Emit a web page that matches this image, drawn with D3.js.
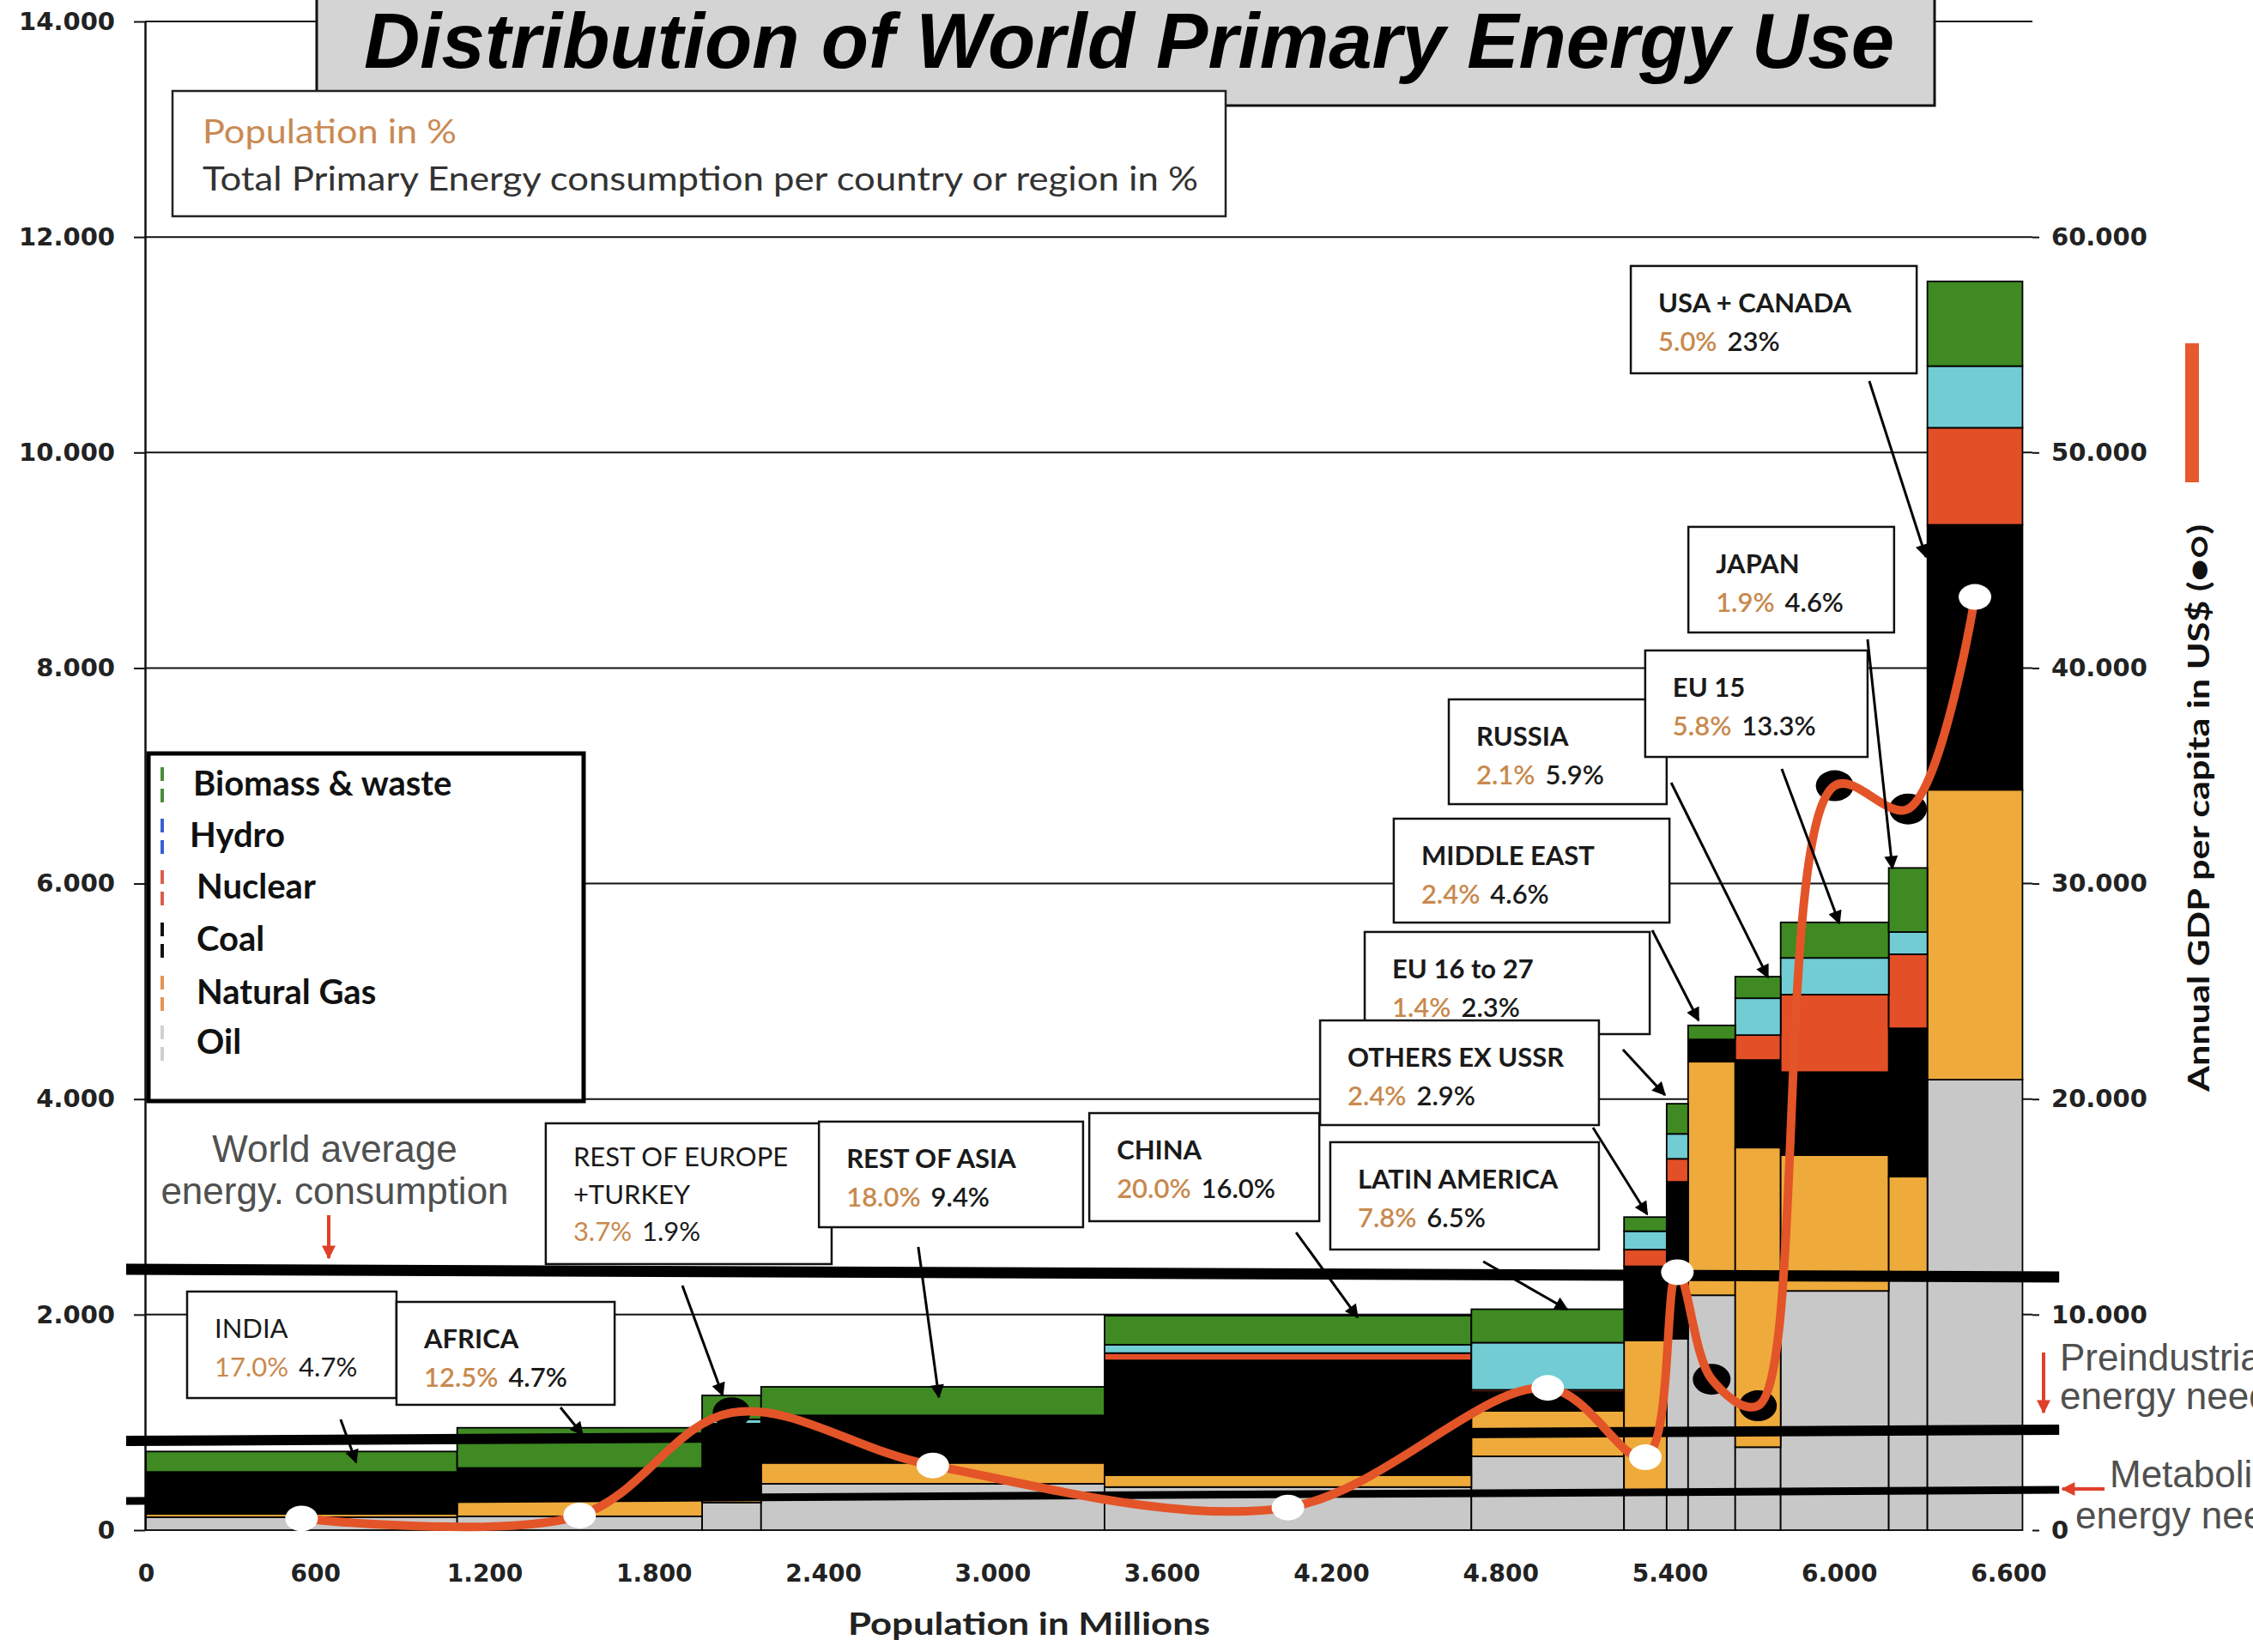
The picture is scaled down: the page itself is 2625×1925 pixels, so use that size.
<!DOCTYPE html>
<html><head><meta charset="utf-8">
<script src="https://cdn.jsdelivr.net/npm/d3@7"></script>
<style>html,body{margin:0;padding:0;background:#fff;} svg{display:block}</style>
</head><body>
<svg id="chart" width="2625" height="1925"></svg>
<script>
// ---------------- DATA ----------------
const regions = ["INDIA","AFRICA","REST OF EUROPE +TURKEY","REST OF ASIA","CHINA","LATIN AMERICA","OTHERS EX USSR","EU 16 to 27","MIDDLE EAST","RUSSIA","EU 15","JAPAN","USA + CANADA"];
const population = [1103, 868, 209, 1217, 1300, 541, 151, 76, 167, 161, 383, 137, 337]; // millions
const popShare = ["17.0%","12.5%","3.7%","18.0%","20.0%","7.8%","2.4%","1.4%","2.4%","2.1%","5.8%","1.9%","5.0%"];
const energyShare = ["4.7%","4.7%","1.9%","9.4%","16.0%","6.5%","2.9%","2.3%","4.6%","5.9%","13.3%","4.6%","23%"];
const fuels = ["Oil","Natural Gas","Coal","Nuclear","Hydro","Biomass & waste"];
const oil     = [120, 128, 256, 430, 400, 685, 362, 1775, 2180, 770, 2220, 2350, 4180];
const gas     = [30, 154, 52, 194, 110, 422, 1398, 0, 2167, 2780, 1260, 930, 2690];
const coal    = [390, 295, 680, 441, 1065, 175, 688, 1457, 207, 813, 770, 1377, 2459];
const nuclear = [0, 0, 0, 0, 68, 20, 155, 214, 0, 231, 720, 687, 901];
const hydro   = [0, 0, 40, 0, 77, 438, 171, 231, 0, 342, 340, 206, 572];
const biomass = [190, 373, 222, 265, 270, 310, 131, 280, 130, 200, 330, 595, 786];
const gdpPerCapita = [540, 680, 5450, 3000, 1050, 6600, 3380, 11970, 7000, 5770, 34540, 33460, 43300];
const gdpMarker = ["white","white","black","white","white","white","white","white","black","black","black","black","white"];
const refLineNames = ["World average", "Preindustrial", "Metabolic"];
const refLineLeft  = [2420, 828, 270];
const refLineRight = [2350, 932, 374];
const yTicks = [0,2000,4000,6000,8000,10000,12000,14000];
const xTicks = [0,600,1200,1800,2400,3000,3600,4200,4800,5400,6000,6600];
const gdpTicks = [0,10000,20000,30000,40000,50000,60000];
const legendOrder = ["Biomass & waste","Hydro","Nuclear","Coal","Natural Gas","Oil"];

// ---------------- LAYOUT (annotation placement, in data units) ----------------
const boxPop0 = [146, 888, 1417, 2385, 3343, 4197, 4161, 4319, 4422, 4617, 5313, 5466, 5262];
const boxPop1 = [888, 1661, 2430, 3321, 4158, 5149, 5149, 5329, 5399, 5389, 6101, 6195, 6275];
const boxTop  = [2214, 2118, 3775, 3791, 3870, 3600, 4730, 5551, 6602, 7709, 8163, 9310, 11731];
const boxBot  = [1226, 1163, 2469, 2811, 2867, 2604, 3759, 4603, 5638, 6737, 7175, 8330, 10735];
const arrowFrom = [[690,1027],[1469,1139],[1901,2270],[2737,2628],[4076,2763],[4739,2493],[5128,3735],[5234,4460],[5338,5567],[5405,6936],[5797,7064],[6101,8266],[6107,10663]];
const arrowTo   = [[745,629],[1548,884],[2044,1250],[2810,1234],[4294,1975],[5037,2047],[5320,2931],[5383,4038],[5502,4730],[5748,5129],[6001,5630],[6189,6140],[6308,9031]];
const boxDrawOrder = [0,1,2,3,4,5,7,6,8,9,10,11,12];

const colors = {"Oil":"#c8c8c8","Natural Gas":"#eeaa3b","Coal":"#000000","Nuclear":"#e34f27","Hydro":"#72ccd3","Biomass & waste":"#3f8a22"};
const legendDash = {"Biomass & waste":"#4a8c3c","Hydro":"#3a5fd0","Nuclear":"#d8604c","Coal":"#111","Natural Gas":"#e39455","Oil":"#d0d0d0"};

// ---------------- SCALES ----------------
const svg = d3.select("#chart");
const x = d3.scaleLinear().domain([0,6600]).range([170,2340]);
const y = d3.scaleLinear().domain([0,14000]).range([1783,25]);
const yR = d3.scaleLinear().domain([0,60000]).range([y(0), y(12000)]);
const fmt = d3.formatLocale({decimal:",", thousands:".", grouping:[3], currency:["",""]}).format(",d");
const axisX = 169, gridEnd = 2368;

svg.append("rect").attr("width",2625).attr("height",1925).attr("fill","#fff");

// gridlines
svg.append("g").selectAll("line").data(yTicks.filter(v=>v>0)).join("line")
  .attr("x1",axisX).attr("x2",gridEnd).attr("y1",d=>y(d)).attr("y2",d=>y(d))
  .attr("stroke","#111").attr("stroke-width",2);

// left axis
const gL = svg.append("g").attr("transform",`translate(${axisX},0)`)
  .call(d3.axisLeft(y).tickValues(yTicks).tickFormat(fmt).tickSizeInner(13).tickSizeOuter(0).tickPadding(22));
gL.select(".domain").attr("stroke","#111").attr("stroke-width",2.5);
gL.selectAll(".tick line").attr("stroke","#111").attr("stroke-width",2);
gL.selectAll("text").attr("font-family","DejaVu Sans").attr("font-weight","bold").attr("font-size",29).attr("fill","#222");

// right axis
const gR = svg.append("g").attr("transform",`translate(${gridEnd},0)`)
  .call(d3.axisRight(yR).tickValues(gdpTicks).tickFormat(fmt).tickSizeInner(8).tickSizeOuter(0).tickPadding(14));
gR.select(".domain").remove();
gR.selectAll(".tick line").attr("stroke","#111").attr("stroke-width",2);
gR.selectAll("text").attr("font-family","DejaVu Sans").attr("font-weight","bold").attr("font-size",29).attr("fill","#222");

// bottom axis
const gB = svg.append("g").attr("transform",`translate(0,${y(0)})`)
  .call(d3.axisBottom(x).tickValues(xTicks).tickFormat(fmt).tickSize(0));
gB.select(".domain").remove();
gB.selectAll("text").attr("y",50).attr("dy","0.35em").attr("font-family","DejaVu Sans").attr("font-weight","bold").attr("font-size",28).attr("fill","#222");

svg.append("text").attr("x",988).attr("y",1905).attr("textLength",422).attr("lengthAdjust","spacingAndGlyphs")
  .attr("font-family","Lato").attr("font-weight","bold").attr("font-size",37).attr("fill","#222").text("Population in Millions");

// ---------------- BARS ----------------
const rows = regions.map((r,i)=>({region:r,"Oil":oil[i],"Natural Gas":gas[i],"Coal":coal[i],"Nuclear":nuclear[i],"Hydro":hydro[i],"Biomass & waste":biomass[i]}));
const series = d3.stack().keys(fuels)(rows);
const popEnd = d3.cumsum(population);
const popStart = population.map((p,i)=>popEnd[i]-p);
const gBars = svg.append("g");
series.forEach(s=>{
  const segs = s.map((d,i)=>({lo:d[0],hi:d[1],i})).filter(d=>d.hi-d.lo>0);
  gBars.selectAll(null).data(segs).join("rect")
    .attr("x",d=>x(popStart[d.i])).attr("width",d=>x(popEnd[d.i])-x(popStart[d.i]))
    .attr("y",d=>y(d.hi)).attr("height",d=>y(d.lo)-y(d.hi))
    .attr("fill",colors[s.key]).attr("stroke","#000").attr("stroke-width",1.8);
});

// ---------------- REFERENCE LINES ----------------
const refThick = [13,12,9];
const refExtent = [-70, 6780];
svg.append("g").selectAll("line").data(refLineNames).join("line")
  .attr("x1",x(refExtent[0])).attr("x2",x(refExtent[1]))
  .attr("y1",(d,i)=>y(refLineLeft[i])).attr("y2",(d,i)=>y(refLineRight[i]))
  .attr("stroke","#000").attr("stroke-width",(d,i)=>refThick[i]);

// ---------------- GDP CURVE ----------------
const gdpPts = gdpPerCapita.map((g,i)=>({x:x((popStart[i]+popEnd[i])/2), y:yR(g), m:gdpMarker[i]}));
const gG = svg.append("g");
gG.selectAll("ellipse.b").data(gdpPts.filter(p=>p.m==="black")).join("ellipse")
  .attr("cx",d=>d.x).attr("cy",d=>d.y).attr("rx",22).attr("ry",18).attr("fill","#000");
gG.append("path").datum(gdpPts)
  .attr("d",d3.line().x(d=>d.x).y(d=>d.y).curve(d3.curveCatmullRom.alpha(0.5)))
  .attr("fill","none").attr("stroke","#e35428").attr("stroke-width",10).attr("stroke-linecap","round");
gG.selectAll("ellipse.w").data(gdpPts.filter(p=>p.m==="white")).join("ellipse")
  .attr("cx",d=>d.x).attr("cy",d=>d.y).attr("rx",19).attr("ry",15).attr("fill","#fff");

// ---------------- MARKERS ----------------
const defs = svg.append("defs");
defs.append("marker").attr("id","ah").attr("viewBox","0 0 10 10").attr("refX",9).attr("refY",5)
  .attr("markerWidth",20).attr("markerHeight",16).attr("markerUnits","userSpaceOnUse").attr("orient","auto")
  .append("path").attr("d","M0,0 L10,5 L0,10 Z").attr("fill","#000");
defs.append("marker").attr("id","ahr").attr("viewBox","0 0 10 10").attr("refX",9).attr("refY",5)
  .attr("markerWidth",18).attr("markerHeight",16).attr("markerUnits","userSpaceOnUse").attr("orient","auto")
  .append("path").attr("d","M0,0 L10,5 L0,10 Z").attr("fill","#e0402a");

// ---------------- LABEL BOXES ----------------
const gLab = svg.append("g");
boxDrawOrder.forEach(i=>{
  const bx0 = x(boxPop0[i]), bx1 = x(boxPop1[i]), by0 = y(boxTop[i]), by1 = y(boxBot[i]);
  const light = (i===0 || i===2);
  gLab.append("line").attr("x1",x(arrowFrom[i][0])).attr("y1",y(arrowFrom[i][1]))
    .attr("x2",x(arrowTo[i][0])).attr("y2",y(arrowTo[i][1]))
    .attr("stroke","#000").attr("stroke-width",3).attr("marker-end","url(#ah)");
  gLab.append("rect").attr("x",bx0).attr("y",by0).attr("width",bx1-bx0).attr("height",by1-by0)
    .attr("fill","#fff").attr("stroke","#111").attr("stroke-width",2.5);
  const lines = i===2 ? ["REST OF EUROPE","+TURKEY"] : [regions[i]];
  const tx = bx0 + 32;
  let base = i===2 ? 50 : 54;
  lines.forEach((ln,k)=>{
    gLab.append("text").attr("x",tx).attr("y",by0+base+k*44).text(ln)
      .attr("font-family","Lato").attr("font-weight",light?400:700).attr("font-size",31).attr("fill","#1a1a1a");
  });
  const py = by0 + (i===2 ? 137 : 99);
  const t1 = gLab.append("text").attr("x",tx).attr("y",py).text(popShare[i])
    .attr("font-family","Lato").attr("font-weight",light?400:600).attr("font-size",31).attr("fill","#c8894e");
  const w1 = t1.node().getComputedTextLength();
  gLab.append("text").attr("x",tx+w1+12).attr("y",py).text(energyShare[i])
    .attr("font-family","Lato").attr("font-weight",light?400:600).attr("font-size",31).attr("fill","#1a1a1a");
});

// ---------------- TITLE & SUBTITLE ----------------
svg.append("rect").attr("x",369).attr("y",-4).attr("width",1885).attr("height",127)
  .attr("fill","#d4d4d4").attr("stroke","#111").attr("stroke-width",3);
svg.append("text").attr("x",424).attr("y",79).attr("textLength",1783).attr("lengthAdjust","spacingAndGlyphs")
  .attr("font-family","Liberation Sans").attr("font-weight","bold").attr("font-style","italic").attr("font-size",90)
  .attr("fill","#000").text("Distribution of World Primary Energy Use");

svg.append("rect").attr("x",201).attr("y",106).attr("width",1227).attr("height",146)
  .attr("fill","#fff").attr("stroke","#222").attr("stroke-width",2.5);
svg.append("text").attr("x",236).attr("y",167).attr("textLength",296).attr("lengthAdjust","spacingAndGlyphs")
  .attr("font-family","Lato").attr("font-size",38).attr("fill","#c98a52").text("Population in %");
svg.append("text").attr("x",236).attr("y",222).attr("textLength",1160).attr("lengthAdjust","spacingAndGlyphs")
  .attr("font-family","Lato").attr("font-size",38).attr("fill","#333").text("Total Primary Energy consumption per country or region in %");

// ---------------- LEGEND ----------------
svg.append("rect").attr("x",173).attr("y",878).attr("width",507).attr("height",405)
  .attr("fill","#fff").attr("stroke","#000").attr("stroke-width",5);
const legRowY = [927,987,1047,1108,1170,1228];
legendOrder.forEach((f,k)=>{
  svg.append("line").attr("x1",189).attr("x2",189).attr("y1",legRowY[k]-33).attr("y2",legRowY[k]+10)
    .attr("stroke",legendDash[f]).attr("stroke-width",4).attr("stroke-dasharray","16,9");
  svg.append("text").attr("x",k===1?221:(k===0?225:229)).attr("y",legRowY[k]).text(f)
    .attr("font-family","Lato").attr("font-weight","bold").attr("font-size",40).attr("fill","#111");
});

// ---------------- SIDE ANNOTATIONS ----------------
const annFont = {"font-family":"Liberation Sans","font-size":44,"fill":"#505050"};
function ann(t,xx,yy,anchor,size){
  const e = svg.append("text").attr("x",xx).attr("y",yy).text(t).attr("text-anchor",anchor||"start");
  Object.entries(annFont).forEach(([k,v])=>e.attr(k,v));
  if(size) e.attr("font-size",size);
  return e;
}
ann("World average",390,1354,"middle");
ann("energy. consumption",390,1403,"middle");
svg.append("line").attr("x1",383).attr("x2",383).attr("y1",1416).attr("y2",1466)
  .attr("stroke","#e0402a").attr("stroke-width",4).attr("marker-end","url(#ahr)");

ann("Preindustrial",2400,1597,"start",44);
ann("energy need",2400,1642,"start",44);
svg.append("line").attr("x1",2381).attr("x2",2381).attr("y1",1576).attr("y2",1646)
  .attr("stroke","#e0402a").attr("stroke-width",4).attr("marker-end","url(#ahr)");

ann("Metabolic",2458,1733,"start",44);
ann("energy need",2418,1781,"start",44);
svg.append("line").attr("x1",2452).attr("x2",2403).attr("y1",1735).attr("y2",1735)
  .attr("stroke","#e0402a").attr("stroke-width",4).attr("marker-end","url(#ahr)");

// GDP legend
svg.append("rect").attr("x",2546).attr("y",400).attr("width",16).attr("height",162).attr("fill","#e55a2d");
svg.append("text").attr("transform","translate(2574,1272) rotate(-90)").attr("x",0).attr("y",0)
  .attr("textLength",661).attr("lengthAdjust","spacingAndGlyphs")
  .attr("font-family","Lato").attr("font-weight","bold").attr("font-size",35).attr("fill","#111")
  .text("Annual GDP per capita in US$ (\u25CF\u25CB)");
</script>
</body></html>
